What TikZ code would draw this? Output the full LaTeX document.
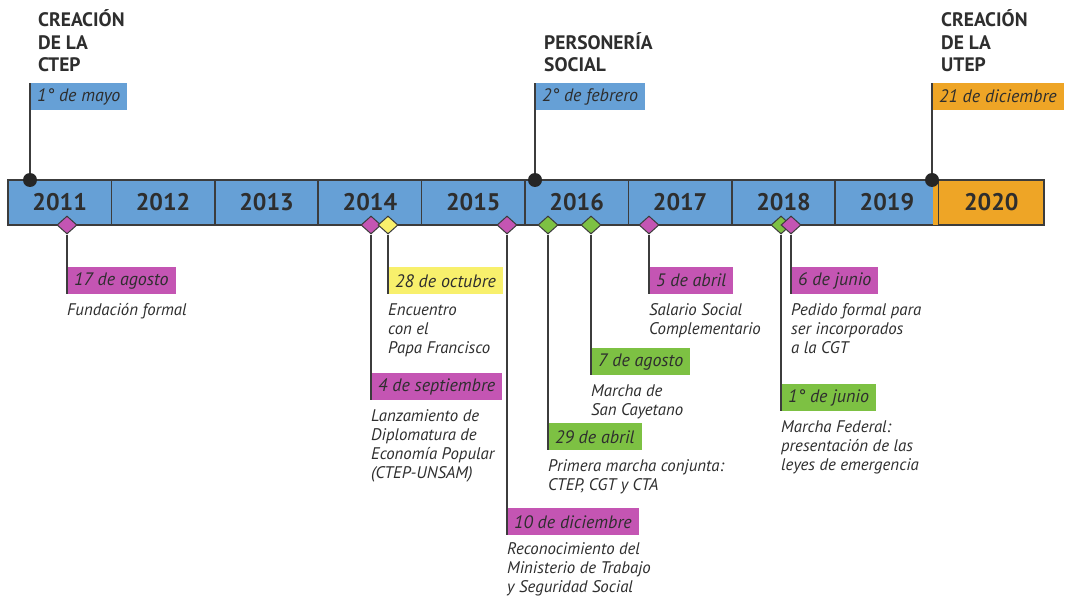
\documentclass[tikz,border=0pt]{standalone}
\usepackage{fontspec}
\setmainfont{PT Sans}
\usetikzlibrary{positioning,shapes.geometric}
\definecolor{tlblue}{HTML}{66A0D6}
\definecolor{tlorange}{HTML}{EEA526}
\definecolor{tlmagenta}{HTML}{C455B3}
\definecolor{tlgreen}{HTML}{7DC143}
\definecolor{tlyellow}{HTML}{F8F06C}
\definecolor{tlline}{HTML}{3C3C3C}
\definecolor{tltext}{HTML}{2E2E2E}
\tikzset{
  yearcell/.style={draw=tlline, line width=1.6pt, fill=tlblue, minimum width=103.4pt,
    minimum height=45pt, inner sep=0pt, text=tltext,
    font=\bfseries\fontsize{24}{24}\selectfont},
  datebox/.style={fill=#1, anchor=north west, minimum height=27pt, inner xsep=7pt,
    inner ysep=0pt, text=tltext, font=\itshape\fontsize{18}{18}\selectfont},
  heading/.style={align=left, inner sep=0pt, text=tltext,
    font=\bfseries\fontsize{19.5}{22.5}\selectfont},
  note/.style={align=left, inner sep=0pt, text=tltext,
    font=\itshape\fontsize{16.8}{19}\selectfont},
  dot/.style={circle, fill=black!85, minimum size=14pt, inner sep=0pt},
  gem/.style={diamond, draw=tlline, line width=1pt, fill=#1, minimum width=20pt,
    minimum height=18pt, inner sep=0pt},
  stem/.style={draw=tlline, line width=1.8pt}
}
\begin{document}
\begin{tikzpicture}[x=1pt,y=-1pt]
  \useasboundingbox (0,0) rectangle (1065,596);
  % year bar
  \foreach \yr [count=\i from 0] in {2011,...,2019}
    \node[yearcell] (y\yr) at ({59.7+103.4*\i},202.5) {\yr};
  \fill[tlorange] ([xshift=-6.6pt,yshift=-0.8pt]y2019.north east)
    rectangle ([yshift=0.8pt]y2019.south east);
  \node[yearcell, fill=tlorange, minimum width=105.4pt] (y2020) at (991.3,202.5) {2020};

  % events above the bar
  \node[datebox=tlblue] (mayo) at (30,83) {1° de mayo};
  \node[datebox=tlblue] (febrero) at (535,83) {2° de febrero};
  \node[datebox=tlorange] (diciembre) at (932,83) {21 de diciembre};
  \node[heading, above right=11pt and 8pt of mayo.north west] (ctep) {CREACIÓN\\DE LA\\CTEP};
  \node[heading, above right=11pt and 9pt of febrero.north west] (personeria) {PERSONERÍA\\SOCIAL};
  \node[heading, above right=11pt and 9pt of diciembre.north west] (utep) {CREACIÓN\\DE LA\\UTEP};
  \node[dot] (d1) at (30,180) {};
  \node[dot] (d2) at (535,180) {};
  \node[dot] (d3) at (932,180) {};
  \draw[stem] (d1.north) -- (mayo.north west);
  \draw[stem] (d2.north) -- (febrero.north west);
  \draw[stem] (d3.north) -- (diciembre.north west);

  % events below the bar
  \node[datebox=tlmagenta] (agosto11) at (67,267) {17 de agosto};
  \node[datebox=tlmagenta] (septiembre) at (371,373) {4 de septiembre};
  \node[datebox=tlyellow] (octubre) at (388,267) {28 de octubre};
  \node[datebox=tlmagenta] (diciembre15) at (507,508) {10 de diciembre};
  \node[datebox=tlgreen] (abril16) at (548,423) {29 de abril};
  \node[datebox=tlgreen] (agosto16) at (591,348) {7 de agosto};
  \node[datebox=tlmagenta] (abril17) at (649,267) {5 de abril};
  \node[datebox=tlgreen] (junio1) at (781,384) {1° de junio};
  \node[datebox=tlmagenta] (junio6) at (791,267) {6 de junio};

  \node[note, below right=9pt and 0pt of agosto11.south west] (fundacion) {Fundación formal};
  \node[note, below right=9pt and 0pt of septiembre.south west] (diplomatura) {Lanzamiento de\\Diplomatura de\\Economía Popular\\(CTEP-UNSAM)};
  \node[note, below right=9pt and 0pt of octubre.south west] (papa) {Encuentro\\con el\\Papa Francisco};
  \node[note, below right=7pt and 0pt of diciembre15.south west] (ministerio) {Reconocimiento del\\Ministerio de Trabajo\\y Seguridad Social};
  \node[note, below right=9pt and 0pt of abril16.south west] (conjunta) {Primera marcha conjunta:\\CTEP, CGT y CTA};
  \node[note, below right=9pt and 0pt of agosto16.south west] (cayetano) {Marcha de\\San Cayetano};
  \node[note, below right=9pt and 0pt of abril17.south west] (salario) {Salario Social\\Complementario};
  \node[note, below right=9pt and 0pt of junio1.south west] (federal) {Marcha Federal:\\presentación de las\\leyes de emergencia};
  \node[note, below right=9pt and 0pt of junio6.south west] (cgt) {Pedido formal para\\ser incorporados\\a la CGT};

  \node[gem=tlmagenta] (g1) at (67,225) {};
  \node[gem=tlmagenta] (g2) at (371,225) {};
  \node[gem=tlyellow] (g3) at (388,225) {};
  \node[gem=tlmagenta] (g4) at (507,225) {};
  \node[gem=tlgreen] (g5) at (548,225) {};
  \node[gem=tlgreen] (g6) at (591,225) {};
  \node[gem=tlmagenta] (g7) at (649,225) {};
  \node[gem=tlgreen] (g8) at (781,225) {};
  \node[gem=tlmagenta] (g9) at (791,225) {};

  \draw[stem] (g1.south) -- (agosto11.south west);
  \draw[stem] (g2.south) -- (septiembre.south west);
  \draw[stem] (g3.south) -- (octubre.south west);
  \draw[stem] (g4.south) -- (diciembre15.south west);
  \draw[stem] (g5.south) -- (abril16.south west);
  \draw[stem] (g6.south) -- (agosto16.south west);
  \draw[stem] (g7.south) -- (abril17.south west);
  \draw[stem] (g8.south) -- (junio1.south west);
  \draw[stem] (g9.south) -- (junio6.south west);
\end{tikzpicture}
\end{document}
